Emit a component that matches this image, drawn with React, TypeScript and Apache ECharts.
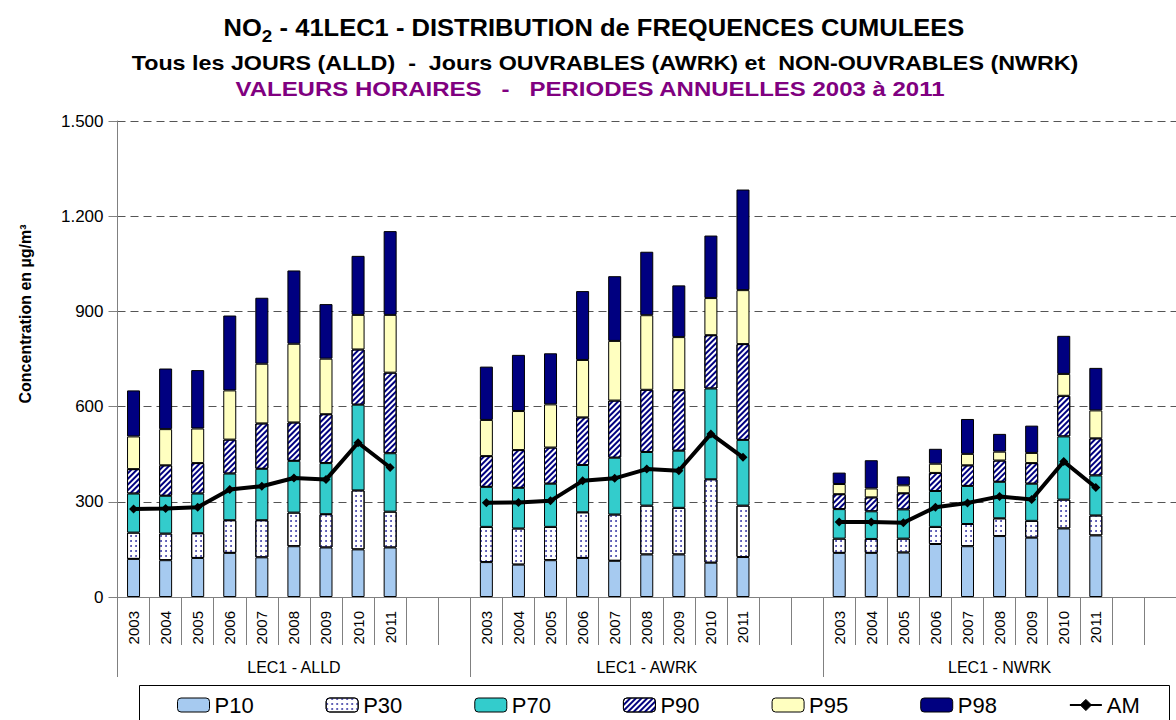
import React, { useEffect, useRef } from 'react';
import * as echarts from 'echarts';

const years = ['2003', '2004', '2005', '2006', '2007', '2008', '2009', '2010', '2011'];
const groups = ['LEC1 - ALLD', 'LEC1 - AWRK', 'LEC1 - NWRK'];
const yTicks = [0, 300, 600, 900, 1200, 1500];

// percentile values (top of each stacked segment), order: ALLD 2003-2011, AWRK 2003-2011, NWRK 2003-2011
const P10 = [120, 116, 123, 139, 125, 160, 156, 150, 156, 110, 102, 116, 123, 114, 134, 134, 108, 126, 139, 139, 140, 167, 160, 192, 187, 216, 194];
const P30 = [203, 200, 201, 242, 242, 266, 261, 336, 269, 221, 216, 221, 267, 260, 288, 281, 371, 288, 184, 183, 184, 221, 230, 248, 240, 307, 257];
const P70 = [326, 319, 326, 389, 404, 429, 422, 606, 453, 347, 344, 357, 416, 439, 457, 461, 657, 495, 277, 270, 276, 334, 350, 363, 357, 506, 383];
const P90 = [403, 415, 422, 496, 547, 550, 576, 780, 707, 444, 463, 471, 566, 619, 653, 652, 825, 797, 324, 314, 327, 391, 415, 430, 422, 634, 500];
const P95 = [506, 529, 531, 651, 735, 798, 751, 889, 889, 558, 586, 607, 747, 807, 888, 819, 942, 967, 356, 342, 352, 420, 451, 458, 454, 703, 588];
const P98 = [651, 720, 715, 887, 943, 1029, 923, 1075, 1153, 726, 763, 768, 964, 1011, 1088, 982, 1139, 1284, 392, 431, 380, 467, 561, 514, 540, 823, 722];
const AM = [277, 279, 283, 339, 349, 375, 370, 486, 408, 297, 298, 303, 366, 374, 403, 398, 514, 440, 236, 236, 234, 283, 296, 317, 307, 427, 345];

const FONT = '"Liberation Sans", Arial, sans-serif';

function expand(arr: (number | null)[]): (number | null)[] {
  const out: (number | null)[] = [];
  for (let g = 0; g < groups.length; g++) {
    for (let i = 0; i < years.length; i++) out.push(arr[g * years.length + i]);
    out.push(null, null);
  }
  return out;
}

function diff(top: number[], bottom: number[] | null): number[] {
  return top.map((v, i) => (bottom ? v - bottom[i] : v));
}

const categories: string[] = [];
const catLabels: string[] = [];
groups.forEach((g) => {
  years.forEach((y) => {
    categories.push(g + '|' + y);
    catLabels.push(y);
  });
  categories.push(g + '|e1', g + '|e2');
  catLabels.push('', '');
});

export default function App() {
  const ref = useRef<HTMLDivElement>(null);
  useEffect(() => {
    if (!ref.current) return;
    const chart = echarts.init(ref.current, null, { renderer: 'svg' });
    const border = { borderColor: '#000', borderWidth: 1 };
    const barBase = {
      type: 'bar',
      stack: 'tot',
      barWidth: 13,
      xAxisIndex: 0,
      yAxisIndex: 0,
    };
    const option: any = {
      animation: false,
      backgroundColor: '#fff',
      textStyle: { fontFamily: FONT },
      graphic: [
        {
          type: 'text',
          x: 594,
          y: 28,
          scaleX: 1.11,
          style: {
            text: '{a|NO}{b|2}{a| - 41LEC1 - DISTRIBUTION de FREQUENCES CUMULEES}',
            align: 'center',
            verticalAlign: 'middle',
            textAlign: 'center',
            textVerticalAlign: 'middle',
            fill: '#000',
            rich: {
              a: { fontSize: 23, fontWeight: 'bold', fontFamily: FONT, fill: '#000', color: '#000' },
              b: { fontSize: 17, fontWeight: 'bold', fontFamily: FONT, fill: '#000', color: '#000', padding: [16, 0, 0, 0] },
            },
          },
        },
        {
          type: 'text',
          x: 605,
          y: 63,
          scaleX: 1.165,
          style: {
            text: 'Tous les JOURS (ALLD)  -  Jours OUVRABLES (AWRK) et  NON-OUVRABLES (NWRK)',
            align: 'center',
            verticalAlign: 'middle',
            textAlign: 'center',
            textVerticalAlign: 'middle',
            fontSize: 20,
            fontWeight: 'bold',
            fontFamily: FONT,
            fill: '#000',
          },
        },
        {
          type: 'text',
          x: 590,
          y: 89,
          scaleX: 1.2,
          style: {
            text: 'VALEURS HORAIRES   -   PERIODES ANNUELLES 2003 à 2011',
            align: 'center',
            verticalAlign: 'middle',
            textAlign: 'center',
            textVerticalAlign: 'middle',
            fontSize: 20,
            fontWeight: 'bold',
            fontFamily: FONT,
            fill: '#800080',
          },
        },
        {
          type: 'text',
          x: 25,
          y: 314,
          rotation: Math.PI / 2,
          style: {
            text: 'Concentration en µg/m³',
            align: 'center',
            verticalAlign: 'middle',
            textAlign: 'center',
            textVerticalAlign: 'middle',
            fontSize: 16,
            fontWeight: 'bold',
            fontFamily: FONT,
            fill: '#000',
          },
        },
        {
          type: 'rect',
          shape: { x: 139.5, y: 685.5, width: 1030, height: 60 },
          style: { fill: 'none', stroke: '#000', lineWidth: 1 },
          z: 1,
        },
      ],
      legend: {
        data: ['P10', 'P30', 'P70', 'P90', 'P95', 'P98', 'AM'],
        left: 177,
        top: 694,
        padding: 0,
        itemWidth: 32,
        itemHeight: 14,
        itemGap: 72,
        textStyle: { fontSize: 22, color: '#000', fontFamily: FONT },
        itemStyle: { borderColor: '#000', borderWidth: 1 },
      },
      grid: { left: 117.5, right: -7.5, top: 121, bottom: 123, containLabel: false },
      xAxis: [
        {
          type: 'category',
          position: 'bottom',
          data: categories,
          boundaryGap: true,
          axisLine: { show: true, lineStyle: { color: '#808080', width: 1 } },
          axisTick: { show: true, interval: 0, length: 48, alignWithLabel: false, lineStyle: { color: '#808080' } },
          axisLabel: {
            interval: 0,
            rotate: 90,
            margin: 14,
            fontSize: 15,
            color: '#000',
            fontFamily: FONT,
            formatter: (_v: string, i: number) => catLabels[i],
          },
          splitLine: { show: false },
        },
        {
          type: 'category',
          position: 'bottom',
          data: groups,
          boundaryGap: true,
          axisLine: { show: false },
          axisTick: { show: true, interval: 0, length: 80, lineStyle: { color: '#808080' } },
          axisLabel: { interval: 0, margin: 62, fontSize: 16, color: '#000', fontFamily: FONT },
          splitLine: { show: false },
        },
      ],
      yAxis: {
        type: 'value',
        min: yTicks[0],
        max: yTicks[yTicks.length - 1],
        interval: 300,
        axisLine: { show: true, lineStyle: { color: '#808080', width: 1 } },
        axisTick: { show: true, length: 9, lineStyle: { color: '#808080' } },
        axisLabel: {
          fontSize: 17,
          color: '#000',
          margin: 14,
          fontFamily: FONT,
          formatter: (v: number) =>
            v >= 1000 ? Math.floor(v / 1000) + '.' + String(v % 1000).padStart(3, '0') : String(v),
        },
        splitLine: { show: true, lineStyle: { color: '#555', type: [8, 5], width: 1 } },
      },
      series: [
        { ...barBase, name: 'P10', data: expand(diff(P10, null)), itemStyle: { color: '#A6CAF0', ...border } },
        {
          ...barBase,
          name: 'P30',
          data: expand(diff(P30, P10)),
          itemStyle: {
            color: '#ffffff',
            ...border,
            decal: { symbol: 'circle', symbolSize: 0.9, dashArrayX: [2, 3], dashArrayY: [2, 2.5], color: '#3030A0' },
          },
        },
        { ...barBase, name: 'P70', data: expand(diff(P70, P30)), itemStyle: { color: '#33CCCC', ...border } },
        {
          ...barBase,
          name: 'P90',
          data: expand(diff(P90, P70)),
          itemStyle: {
            color: '#ffffff',
            ...border,
            decal: { symbol: 'rect', symbolSize: 1, dashArrayX: [1, 0], dashArrayY: [2, 2], rotation: -Math.PI / 4, color: '#000080' },
          },
        },
        { ...barBase, name: 'P95', data: expand(diff(P95, P90)), itemStyle: { color: '#FFFFC0', ...border } },
        { ...barBase, name: 'P98', data: expand(diff(P98, P95)), itemStyle: { color: '#000080', ...border } },
        {
          type: 'line',
          name: 'AM',
          xAxisIndex: 0,
          yAxisIndex: 0,
          data: expand(AM),
          connectNulls: false,
          symbol: 'diamond',
          symbolSize: 9,
          showSymbol: true,
          itemStyle: { color: '#000' },
          lineStyle: { color: '#000', width: 4 },
          z: 10,
        },
      ],
    };
    chart.setOption(option);
    return () => chart.dispose();
  }, []);
  return <div ref={ref} style={{ position: 'fixed', left: 0, top: 0, width: 1176, height: 720 }} />;
}
